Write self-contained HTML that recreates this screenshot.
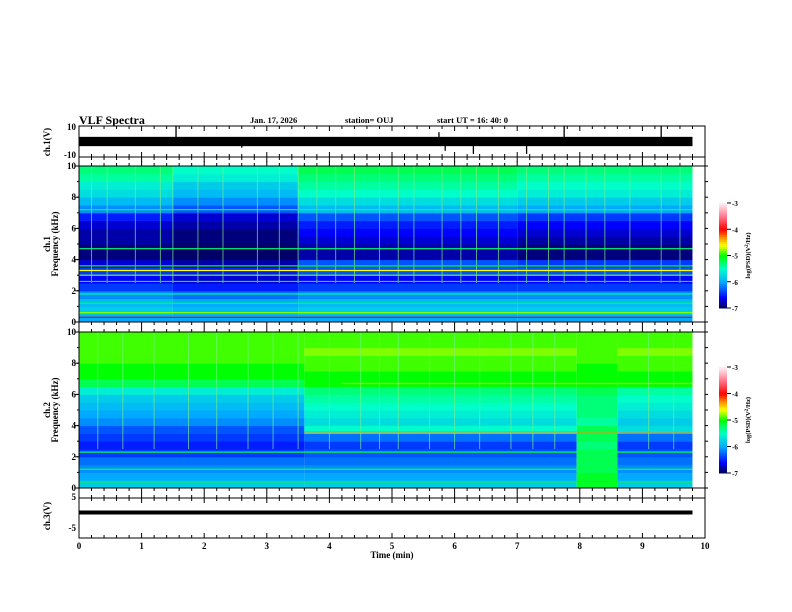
<!DOCTYPE html>
<html><head><meta charset="utf-8">
<style>
body{margin:0;background:#fff;}
svg{display:block;font-family:"Liberation Serif",serif;font-weight:bold;}
</style></head>
<body>
<svg id="chart" width="792" height="612" viewBox="0 0 792 612">
<text x="79" y="124" font-size="12">VLF Spectra</text>
<text x="250" y="123" font-size="8.5">Jan. 17, 2026</text>
<text x="345" y="123" font-size="8.5">station= OUJ</text>
<text x="437" y="123" font-size="8.5">start  UT =   16: 40: 0</text>
<g id="layer"></g>
</svg>
<script>
// ---- data ----
const xTicks=[0,1,2,3,4,5,6,7,8,9,10];
const freqTicks=[0,2,4,6,8,10];
const cbTicks=[-3,-4,-5,-6,-7];
// channel 1 spectrogram: time segments (min) and PSD profiles (log10 V^2/Hz), 0.5 kHz bins from 0 to 10 kHz
const ch1SegStart=[0,1.5,3.5,7];
const ch1SegEnd=[1.5,3.5,7,9.8];
const ch1Prof0=[-6.0,-5.8,-5.9,-6.1,-6.4,-6.6,-6.4,-6.7,-6.9,-6.9,-6.8,-6.8,-6.7,-6.5,-6.1,-5.9,-5.7,-5.6,-5.4,-5.3];
const ch1Prof1=[-6.0,-5.9,-6.0,-6.2,-6.5,-6.7,-6.5,-6.8,-6.95,-6.95,-6.9,-6.9,-6.8,-6.7,-6.3,-6.1,-5.9,-5.8,-5.6,-5.5];
const ch1Prof2=[-6.0,-5.8,-5.9,-6.1,-6.4,-6.6,-6.3,-6.3,-6.8,-6.8,-6.7,-6.6,-6.5,-6.3,-5.9,-5.7,-5.5,-5.4,-5.3,-5.2];
const ch1Prof3=[-6.0,-5.8,-5.9,-6.1,-6.4,-6.6,-6.3,-6.4,-6.9,-6.9,-6.8,-6.7,-6.6,-6.4,-6.0,-5.8,-5.6,-5.5,-5.4,-5.3];
const ch1LineFreq=[0.3,0.6,1.2,2.6,3.0,3.3,3.6,4.7,7.2,1.8];
const ch1LineLevel=[-4.0,-4.8,-5.2,-5.0,-4.8,-4.6,-5.0,-5.3,-5.3,-5.4];
const ch1Streaks=[0.2,0.45,0.9,1.3,1.5,1.9,2.3,2.85,3.2,3.5,3.8,4.1,4.4,4.8,5.1,5.35,5.8,6.1,6.35,6.7,7.15,7.5,7.75,8.1,8.4,8.8,9.3,9.6];
// channel 2 spectrogram
const ch2SegStart=[0,3.6,7.95,8.6];
const ch2SegEnd=[3.6,7.95,8.6,9.8];
const ch2Prof0=[-5.8,-6.0,-6.1,-6.2,-6.4,-6.5,-6.4,-6.3,-6.1,-6.0,-5.9,-5.8,-5.6,-5.2,-5.0,-5.0,-4.9,-4.9,-4.9,-4.9];
const ch2Prof1=[-5.8,-6.0,-6.1,-6.2,-6.3,-6.4,-6.2,-5.5,-5.7,-5.6,-5.5,-5.4,-5.3,-5.0,-5.0,-4.9,-4.9,-4.8,-4.9,-4.9];
const ch2Prof2=[-5.1,-5.1,-5.2,-5.2,-5.2,-5.3,-5.2,-5.2,-5.4,-5.3,-5.3,-5.3,-5.2,-5.0,-5.0,-5.0,-4.9,-4.9,-4.9,-4.9];
const ch2Prof3=[-5.8,-6.0,-6.1,-6.2,-6.3,-6.4,-6.2,-5.7,-5.8,-5.7,-5.6,-5.5,-5.4,-5.0,-5.0,-4.9,-4.9,-4.8,-4.9,-4.9];
const ch2LineFreq=[1.2,2.3,3.6,6.7,0.4];
const ch2LineLevel=[-5.2,-5.2,-4.3,-4.4,-5.0];
const ch2LineStart=[0,0,3.6,4.2,0];
const ch2Streaks=[0.3,0.7,1.2,1.75,2.2,2.7,3.1,3.5,4.0,4.5,4.8,5.1,5.6,6.0,6.4,6.9,7.25,7.6,9.1,9.5];
// ch1 waveform: baseline band and spikes (V)
const ch1Band=[-3,3];
const ch1SpikeT=[1.55,2.6,5.75,5.85,6.3,7.15,7.75,9.3];
const ch1SpikeV=[10,-4,6,-6,-8,-8,10,10];
const ch3Value=[0];

// ---- layout ----
const X0=79,X1=705;
const sx=t=>X0+(X1-X0)*t/10;
const NS='http://www.w3.org/2000/svg';
const L=document.getElementById('layer');
function mk(tag,attrs,parent){const e=document.createElementNS(NS,tag);for(const k in attrs)e.setAttribute(k,attrs[k]);(parent||L).appendChild(e);return e;}
function color(v){
  const st=[[-7,[0,0,80]],[-6.6,[0,0,255]],[-6.0,[0,170,255]],[-5.5,[0,255,200]],[-5.0,[0,255,0]],[-4.6,[255,255,0]],[-4.3,[255,140,0]],[-4.0,[255,0,0]],[-3.5,[255,120,140]],[-3,[255,240,245]]];
  if(v<=st[0][0])return 'rgb(0,0,80)';
  for(let i=1;i<st.length;i++){if(v<=st[i][0]){const a=st[i-1],b=st[i],f=(v-a[0])/(b[0]-a[0]);const c=a[1].map((x,j)=>Math.round(x+(b[1][j]-x)*f));return `rgb(${c})`;}}
  return 'rgb(255,240,245)';
}
function xTicksOn(yTop,yBot,name){
  for(let t=0;t<=10.001;t+=0.2){
    const x=sx(t);const len=Math.abs(t-Math.round(t))<0.01?5:3;
    let e=mk('line',{x1:x,x2:x,y1:yTop,y2:yTop+len,stroke:'#000','stroke-width':1});
    
    e=mk('line',{x1:x,x2:x,y1:yBot,y2:yBot-len,stroke:'#000','stroke-width':1});
    
  }
}
function box(y0,y1,name){
  const r=mk('rect',{x:X0,y:y0,width:X1-X0,height:y1-y0,fill:'none',stroke:'#000','stroke-width':1});
  
}
function ylab(x,y,txt,name){
  const t=mk('text',{x:x,y:y,'font-size':9,'text-anchor':'end'});t.textContent=txt;
  
}
function rotLab(x,y,txt,name,size){
  const t=mk('text',{x:0,y:0,'font-size':size||9,'text-anchor':'middle',transform:`translate(${x},${y}) rotate(-90)`});t.textContent=txt;
  
}
function spectro(y0,y1,segS,segE,profs,lineF,lineL,lineS,streaks,name){
  const sy=f=>y1-(y1-y0)*f/10;
  segS.forEach((s,i)=>{
    profs[i].forEach((v,b)=>{
      const r=mk('rect',{x:sx(s),y:sy((b+1)*0.5),width:sx(segE[i])-sx(s),height:sy(b*0.5)-sy((b+1)*0.5)+0.5,fill:color(v)});
      
    });
  });
  streaks.forEach(t=>{
    const l=mk('line',{x1:sx(t),x2:sx(t),y1:y0,y2:sy(2.5),stroke:'#7e8',opacity:0.7,'stroke-width':1});
    
  });
  lineF.forEach((f,i)=>{
    const l=mk('line',{x1:sx(lineS?lineS[i]:0),x2:sx(9.8),y1:sy(f),y2:sy(f),stroke:color(lineL[i]),'stroke-width':1.2});
    
  });
  const w=mk('rect',{x:sx(9.8),y:y0,width:X1-sx(9.8),height:y1-y0,fill:'#fff'});
  
  freqTicks.forEach(f=>{
    ylab(X0-3,sy(f)+3,String(f),name+'-ytick-label');
    let e=mk('line',{x1:X0-4,x2:X0,y1:sy(f),y2:sy(f),stroke:'#000'});
  });
  for(let f=0;f<=10;f+=1){
    let e=mk('line',{x1:X0-2,x2:X0,y1:sy(f),y2:sy(f),stroke:'#000'});
    e=mk('line',{x1:X1,x2:X1+3,y1:sy(f),y2:sy(f),stroke:'#000'});
  }
  box(y0,y1,name+'-frame');
}
function colorbar(y0,y1,name){
  const n=60;
  for(let i=0;i<n;i++){
    const v=-7+4*(i+0.5)/n;const y=y1-(y1-y0)*(i+1)/n;
    const r=mk('rect',{x:719,y:y,width:8,height:(y1-y0)/n+0.5,fill:color(v)});
    
  }
  cbTicks.forEach(v=>{
    const y=y1-(y1-y0)*(v+7)/4;
    let e=mk('line',{x1:727,x2:731,y1:y,y2:y,stroke:'#000'});
    const t=mk('text',{x:732,y:y+3,'font-size':7});t.textContent=String(v);
    
  });
  const t=mk('text',{x:0,y:0,'font-size':6.5,'text-anchor':'middle',transform:`translate(750,${(y0+y1)/2}) rotate(-90)`});
  t.innerHTML='log(PSD)(V<tspan dy="-2" font-size="5">2</tspan><tspan dy="2">/Hz)</tspan>';
  
}

// ch1 waveform panel
const W0=126,W1=157;
const wy=v=>W0+(W1-W0)*(10-v)/20;
{const r=mk('rect',{x:sx(0),y:wy(ch1Band[1]),width:sx(9.8)-sx(0),height:wy(ch1Band[0])-wy(ch1Band[1]),fill:'#000'});
}
ch1SpikeT.forEach((t,i)=>{
  const l=mk('line',{x1:sx(t),x2:sx(t),y1:wy(0),y2:wy(ch1SpikeV[i]),stroke:'#000','stroke-width':1.3});
  
});
box(W0,W1,'ch1-wave-frame');xTicksOn(W0,W1,'ch1-wave');
ylab(X0-3,W0+4,'10','ch1-ytick-label');ylab(X0-3,W1+1,'-10','ch1-ytick-label');
rotLab(50,142,'ch.1(V)','ch1-y-title');
box(W1,166,'strip-1');xTicksOn(W1,166,'strip-1');

spectro(166,322,ch1SegStart,ch1SegEnd,[ch1Prof0,ch1Prof1,ch1Prof2,ch1Prof3],ch1LineFreq,ch1LineLevel,null,ch1Streaks,'ch1-spectrogram');
rotLab(50,244,'ch.1','ch1-spec-title');rotLab(58,244,'Frequency (kHz)','ch1-freq-title');
box(322,332,'strip-2');xTicksOn(322,332,'strip-2');
spectro(332,488,ch2SegStart,ch2SegEnd,[ch2Prof0,ch2Prof1,ch2Prof2,ch2Prof3],ch2LineFreq,ch2LineLevel,ch2LineStart,ch2Streaks,'ch2-spectrogram');
rotLab(50,410,'ch.2','ch2-spec-title');rotLab(58,410,'Frequency (kHz)','ch2-freq-title');
box(488,498,'strip-3');xTicksOn(488,498,'strip-3');

// ch3 panel
const C0=498,C1=538;
const cy=v=>497+(528-497)*(5-v)/10;
{const l=mk('line',{x1:sx(0),x2:sx(9.8),y1:cy(ch3Value[0]),y2:cy(ch3Value[0]),stroke:'#000','stroke-width':4});
}
box(C0,C1,'ch3-frame');xTicksOn(C0,C1,'ch3');
ylab(X0-3,cy(5)+3,'5','ch3-ytick-label');ylab(X0-3,cy(-5)+3,'-5','ch3-ytick-label');
rotLab(50,516,'ch.3(V)','ch3-y-title');

xTicks.forEach(t=>{
  const e=mk('text',{x:sx(t),y:549,'font-size':9,'text-anchor':'middle'});e.textContent=String(t);
  
});
{const e=mk('text',{x:sx(5),y:558,'font-size':9,'text-anchor':'middle'});e.textContent='Time  (min)';
}

colorbar(203,308,'ch1-colorbar');
colorbar(367,473,'ch2-colorbar');
</script>
</body></html>
